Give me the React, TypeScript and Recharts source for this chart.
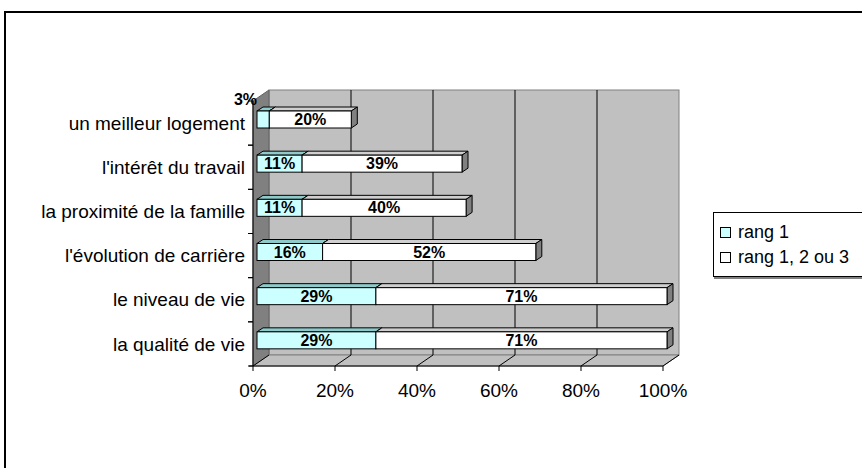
import React from "react";
import { BarChart, Bar, XAxis, YAxis, ReferenceArea, ReferenceLine, LabelList } from "recharts";

const categories = [
  "un meilleur logement",
  "l'intérêt du travail",
  "la proximité de la famille",
  "l'évolution de carrière",
  "le niveau de vie",
  "la qualité de vie",
];
const rang1 = [3, 11, 11, 16, 29, 29];
const rang123 = [20, 39, 40, 52, 71, 71];
const seriesNames = ["rang 1", "rang 1, 2 ou 3"];
const seriesColors = ["#ccffff", "#ffffff"];
const seriesTops = ["#8fcaca", "#cfcfcf"];
const xTicks = [0, 20, 40, 60, 80, 100];

const data = categories.map((name, i) => ({ name, r1: rang1[i], r123: rang123[i] }));

const W = 862;
const H = 468;
const FONT = "'Liberation Sans', Arial, sans-serif";
const margin = { top: 97, right: 195, left: 0, bottom: 66 };
const Y_W = 257;
const X_H = 40;
const band = (H - margin.top - margin.bottom - X_H) / categories.length;

// depth offsets: front plane and back wall, relative to the bar plane
const FX = -4, FY = 4;
const BX = 12, BY = -7;

function Walls(p: any) {
  const { x, y, width: w, height: h } = p;
  return (
    <g>
      <rect x={x + BX} y={y + BY} width={w} height={h} fill="#c0c0c0" stroke="#808080" />
      <polygon
        points={`${x + FX},${y + FY} ${x + BX},${y + BY} ${x + BX},${y + h + BY} ${x + FX},${y + h + FY}`}
        fill="#808080"
        stroke="#606060"
      />
      <polygon
        points={`${x + FX},${y + h + FY} ${x + BX},${y + h + BY} ${x + w + BX},${y + h + BY} ${x + w + FX},${y + h + FY}`}
        fill="#c0c0c0"
        stroke="#808080"
      />
      <line x1={x + FX} y1={y + FY} x2={x + FX} y2={y + h + FY} stroke="#000" />
      <line x1={x + FX - 4} y1={y + h + FY} x2={x + w + FX} y2={y + h + FY} stroke="#000" />
    </g>
  );
}

const gridShape = (v: number) => (p: any) => {
  const top = Math.min(p.y1, p.y2);
  const bot = Math.max(p.y1, p.y2);
  const x = p.x1;
  return (
    <g>
      {v !== 0 && v !== 100 && (
        <line x1={x + BX} y1={top + BY} x2={x + BX} y2={bot + BY} stroke="#000" />
      )}
      <line x1={x + FX} y1={bot + FY} x2={x + BX} y2={bot + BY} stroke="#000" />
      <line x1={x + FX} y1={bot + FY} x2={x + FX} y2={bot + FY + 5} stroke="#000" />
    </g>
  );
};

function XTick(p: any) {
  return (
    <text x={p.x + FX} y={p.y + 28} dy="0.35em" textAnchor="middle" fontSize={19} fontFamily={FONT} fill="#000">
      {`${p.payload.value}%`}
    </text>
  );
}

function YTick(p: any) {
  const ax = Y_W + FX;
  return (
    <g>
      <line x1={ax - 5} y1={p.y - band / 2 + FY} x2={ax} y2={p.y - band / 2 + FY} stroke="#000" />
      <line x1={ax - 5} y1={p.y + band / 2 + FY} x2={ax} y2={p.y + band / 2 + FY} stroke="#000" />
      <text x={p.x - 12} y={p.y + FY} dy="0.35em" textAnchor="end" fontSize={19} fontFamily={FONT} fill="#000">
        {p.payload.value}
      </text>
    </g>
  );
}

const bar3D = (front: string, top: string) => (p: any) => {
  const { x, y, width: w, height: h } = p;
  if (!w || w <= 0) return <g />;
  const dx = 6, dy = 4;
  return (
    <g>
      <polygon points={`${x},${y} ${x + dx},${y - dy} ${x + w + dx},${y - dy} ${x + w},${y}`} fill={top} stroke="#000" />
      <polygon
        points={`${x + w},${y} ${x + w + dx},${y - dy} ${x + w + dx},${y + h - dy} ${x + w},${y + h}`}
        fill="#808080"
        stroke="#000"
      />
      <rect x={x} y={y} width={w} height={h} fill={front} stroke="#000" />
    </g>
  );
};

function BarLabel(p: any) {
  const { x, y, width: w, height: h, value } = p;
  const small = w < 20;
  return (
    <text
      x={small ? x : x + w / 2}
      y={small ? y - 12 : y + h / 2}
      dy="0.35em"
      textAnchor={small ? "end" : "middle"}
      fontSize={16}
      fontWeight="bold"
      fontFamily={FONT}
      fill="#000"
    >
      {`${value}%`}
    </text>
  );
}

function LegendBox() {
  return (
    <div
      style={{
        position: "absolute",
        left: 713,
        top: 212,
        width: 170,
        height: 63,
        border: "1px solid #000",
        boxShadow: "1px 2px 0 #808080",
        background: "#fff",
        fontFamily: FONT,
        fontSize: 18,
      }}
    >
      {seriesNames.map((n, i) => (
        <div key={n} style={{ display: "flex", alignItems: "center", height: 25, marginTop: i === 0 ? 7 : 0, paddingLeft: 6 }}>
          <span style={{ width: 9, height: 9, border: "1px solid #000", background: seriesColors[i], marginRight: 7 }} />
          {n}
        </div>
      ))}
    </div>
  );
}

export default function App() {
  return (
    <div style={{ position: "absolute", left: 0, top: 0, width: W, height: H, overflow: "hidden", background: "#fff" }}>
      <div style={{ position: "absolute", left: 4, top: 11, width: 900, height: 520, border: "2px solid #000" }} />
      <div style={{ position: "absolute", left: 0, top: 0 }}>
        <BarChart width={W} height={H} data={data} layout="vertical" margin={margin}>
          <XAxis type="number" domain={[0, 100]} ticks={xTicks} allowDataOverflow height={X_H} tick={<XTick />} tickLine={false} axisLine={false} tickSize={0} tickMargin={0} />
          <YAxis type="category" dataKey="name" width={Y_W} tick={<YTick />} tickLine={false} axisLine={false} tickSize={0} tickMargin={0} />
          <ReferenceArea x1={0} x2={100} shape={<Walls />} fillOpacity={1} />
          {xTicks.map((t) => (
            <ReferenceLine key={t} x={t} shape={gridShape(t)} />
          ))}
        </BarChart>
      </div>
      <div style={{ position: "absolute", left: 0, top: 0 }}>
        <BarChart width={W} height={H} data={data} layout="vertical" margin={margin} barSize={17}>
          <XAxis type="number" domain={[0, 100]} ticks={xTicks} height={X_H} tick={false} tickLine={false} axisLine={false} />
          <YAxis type="category" dataKey="name" width={Y_W} tick={false} tickLine={false} axisLine={false} />
          <Bar dataKey="r1" stackId="a" name={seriesNames[0]} fill={seriesColors[0]} shape={bar3D(seriesColors[0], seriesTops[0])} isAnimationActive={false}>
            <LabelList dataKey="r1" content={<BarLabel />} />
          </Bar>
          <Bar dataKey="r123" stackId="a" name={seriesNames[1]} fill={seriesColors[1]} shape={bar3D(seriesColors[1], seriesTops[1])} isAnimationActive={false}>
            <LabelList dataKey="r123" content={<BarLabel />} />
          </Bar>
        </BarChart>
      </div>
      <LegendBox />
    </div>
  );
}
